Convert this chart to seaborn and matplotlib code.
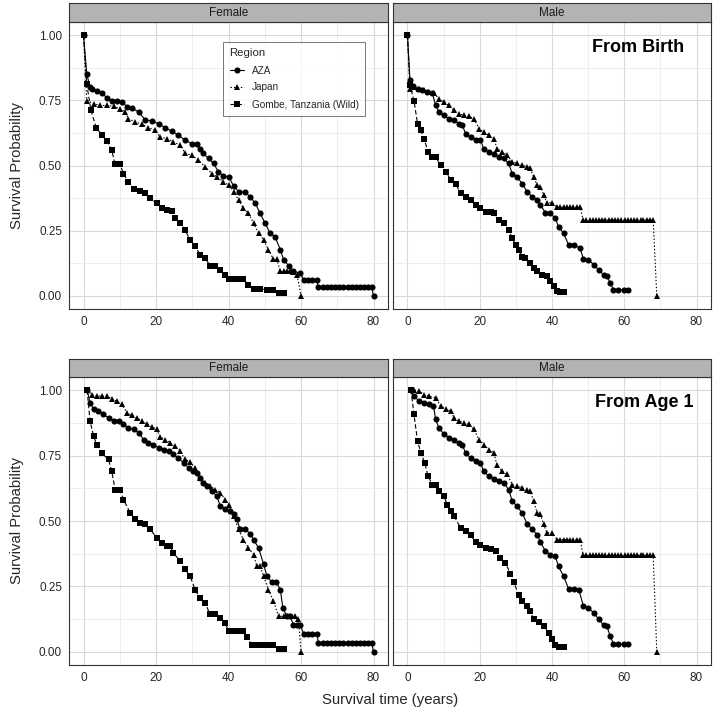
import matplotlib
matplotlib.use("Agg")
import matplotlib.pyplot as plt
import seaborn as sns
import pandas as pd

# -- datos: (tiempo en anos, probabilidad de supervivencia) --
regions = ["AZA", "Japan", "Gombe, Tanzania (Wild)"]
sexes = ["Female", "Male"]
starts = ["From Birth", "From Age 1"]

# desde nacimiento, hembras
aza_f_birth = [(0, 1.0), (0.9, 0.851), (1.8, 0.80), (2.3, 0.794), (3.7, 0.784), (5.1, 0.777),
               (6.4, 0.76), (7.8, 0.747), (9.2, 0.747), (10.6, 0.743), (12.0, 0.726), (13.3, 0.721),
               (15.2, 0.705), (17.0, 0.676), (18.9, 0.67), (20.7, 0.66), (22.5, 0.645), (24.4, 0.631),
               (26.2, 0.616), (28.0, 0.597), (29.9, 0.584), (31.3, 0.581), (32.2, 0.565), (33.1, 0.546),
               (34.5, 0.527), (35.9, 0.508), (37.2, 0.476), (38.6, 0.459), (40.0, 0.457), (41.4, 0.422),
               (42.8, 0.40), (44.6, 0.397), (46.0, 0.38), (47.4, 0.355), (48.7, 0.317), (50.1, 0.279),
               (51.5, 0.24), (52.9, 0.225), (54.3, 0.177), (55.2, 0.139), (56.6, 0.116), (57.9, 0.094),
               (59.8, 0.088), (60.7, 0.062), (61.9, 0.062), (63.1, 0.062), (64.4, 0.06), (64.8, 0.033),
               (66.0, 0.033), (67.1, 0.033), (68.3, 0.033), (69.4, 0.033), (70.6, 0.033), (71.7, 0.033),
               (72.9, 0.033), (74.0, 0.033), (75.2, 0.033), (76.3, 0.033), (77.5, 0.033), (78.6, 0.033),
               (79.5, 0.033), (80.0, 0.0)]
japan_f_birth = [(0, 1.0), (0.9, 0.749), (2.8, 0.737), (4.6, 0.73), (6.4, 0.73), (8.3, 0.727),
                 (10.1, 0.718), (11.5, 0.705), (12.4, 0.679), (14.3, 0.667), (16.1, 0.658), (17.9, 0.645),
                 (19.8, 0.635), (21.1, 0.609), (23.0, 0.603), (24.8, 0.59), (26.7, 0.578), (28.0, 0.548),
                 (29.9, 0.539), (31.7, 0.52), (33.6, 0.495), (35.4, 0.469), (36.8, 0.457), (38.6, 0.438),
                 (40.0, 0.425), (41.4, 0.40), (42.8, 0.368), (44.1, 0.336), (45.5, 0.317), (46.9, 0.279),
                 (48.3, 0.24), (49.7, 0.215), (51.0, 0.177), (52.4, 0.141), (53.3, 0.141), (54.3, 0.094),
                 (55.2, 0.094), (56.1, 0.094), (57.0, 0.094), (57.9, 0.09), (58.9, 0.081), (60.0, 0.0)]
gombe_f_birth = [(0, 1.0), (0.9, 0.813), (2.0, 0.714), (3.5, 0.645), (5.1, 0.616), (6.4, 0.594),
                 (7.8, 0.559), (8.7, 0.505), (10.1, 0.505), (11.0, 0.469), (12.4, 0.438), (13.8, 0.41),
                 (15.6, 0.403), (17.0, 0.393), (18.4, 0.374), (20.2, 0.355), (21.6, 0.338), (23.0, 0.33),
                 (24.4, 0.327), (25.3, 0.298), (26.7, 0.281), (28.0, 0.253), (29.4, 0.215), (30.8, 0.19),
                 (32.2, 0.158), (33.6, 0.145), (34.9, 0.116), (36.3, 0.113), (37.7, 0.10), (39.1, 0.081),
                 (40.0, 0.065), (41.4, 0.065), (42.8, 0.065), (44.1, 0.065), (45.5, 0.043), (46.9, 0.027),
                 (48.7, 0.027), (50.6, 0.024), (52.4, 0.024), (53.8, 0.011), (55.2, 0.011)]

# desde nacimiento, machos
aza_m_birth = [(0, 1.0), (0.7, 0.826), (1.4, 0.803), (2.8, 0.794), (4.1, 0.788), (5.5, 0.781),
               (6.9, 0.777), (7.8, 0.73), (8.7, 0.705), (10.1, 0.692), (11.5, 0.679), (12.9, 0.673),
               (14.3, 0.66), (15.2, 0.654), (16.1, 0.622), (17.5, 0.609), (18.9, 0.599), (20.2, 0.597),
               (21.1, 0.565), (22.5, 0.552), (23.9, 0.543), (25.3, 0.533), (26.7, 0.527), (28.0, 0.508),
               (29.0, 0.469), (30.3, 0.457), (31.7, 0.431), (33.1, 0.40), (34.5, 0.38), (35.9, 0.368),
               (36.8, 0.349), (38.2, 0.319), (39.5, 0.317), (40.9, 0.298), (41.8, 0.266), (43.2, 0.24),
               (44.6, 0.196), (46.0, 0.196), (47.8, 0.183), (48.7, 0.141), (50.1, 0.139), (51.5, 0.12),
               (52.9, 0.10), (54.3, 0.081), (55.2, 0.075), (56.1, 0.05), (57.0, 0.024), (58.4, 0.024),
               (59.8, 0.024), (61.1, 0.024)]
japan_m_birth = [(0, 1.0), (0.7, 0.794), (1.8, 0.80), (3.2, 0.794), (4.6, 0.788), (6.0, 0.781),
                 (7.4, 0.777), (8.7, 0.756), (10.1, 0.743), (11.5, 0.73), (12.9, 0.711), (14.3, 0.698),
                 (15.6, 0.692), (17.0, 0.688), (18.4, 0.679), (19.8, 0.641), (21.1, 0.628), (22.5, 0.616),
                 (23.9, 0.603), (24.8, 0.565), (26.2, 0.552), (27.6, 0.539), (29.0, 0.514), (30.3, 0.508),
                 (31.7, 0.501), (33.1, 0.495), (34.0, 0.489), (34.9, 0.457), (35.9, 0.425), (36.8, 0.419),
                 (37.7, 0.387), (38.6, 0.357), (40.0, 0.357), (41.4, 0.34), (42.3, 0.34), (43.2, 0.34),
                 (44.1, 0.34), (45.0, 0.34), (45.9, 0.34), (46.9, 0.34), (47.8, 0.34), (48.6, 0.291),
                 (49.5, 0.291), (50.4, 0.291), (51.3, 0.291), (52.1, 0.291), (53.0, 0.291), (53.9, 0.291),
                 (54.8, 0.291), (55.7, 0.291), (56.5, 0.291), (57.4, 0.291), (58.3, 0.291), (59.2, 0.291),
                 (60.1, 0.291), (60.9, 0.291), (61.8, 0.291), (62.7, 0.291), (63.6, 0.291), (64.5, 0.291),
                 (65.3, 0.291), (66.2, 0.291), (67.1, 0.291), (68.0, 0.291), (69.0, 0.0)]
gombe_m_birth = [(0, 1.0), (0.7, 0.807), (1.8, 0.749), (2.8, 0.66), (3.7, 0.635), (4.6, 0.603),
                 (5.7, 0.552), (6.9, 0.533), (7.8, 0.533), (9.2, 0.501), (10.6, 0.476), (12.0, 0.444),
                 (13.3, 0.431), (14.7, 0.393), (16.1, 0.38), (17.5, 0.368), (18.9, 0.349), (20.2, 0.336),
                 (21.6, 0.323), (23.0, 0.323), (23.9, 0.319), (25.3, 0.291), (26.7, 0.279), (28.0, 0.253),
                 (29.0, 0.221), (29.9, 0.196), (30.8, 0.177), (31.7, 0.151), (32.6, 0.145), (34.0, 0.126),
                 (34.9, 0.107), (35.9, 0.094), (37.2, 0.081), (38.6, 0.075), (39.5, 0.056), (40.5, 0.037),
                 (41.4, 0.018), (42.3, 0.014), (43.2, 0.014)]

# desde edad 1, hembras
aza_f_age1 = [(1.0, 1.0), (1.8, 0.952), (2.8, 0.926), (4.1, 0.92), (5.5, 0.907), (6.9, 0.894),
              (8.3, 0.882), (9.7, 0.882), (11.0, 0.869), (12.4, 0.856), (13.8, 0.85), (15.2, 0.837),
              (16.6, 0.811), (17.9, 0.799), (19.3, 0.792), (20.7, 0.78), (22.1, 0.773), (23.5, 0.767),
              (24.8, 0.754), (26.2, 0.741), (27.6, 0.722), (29.0, 0.703), (30.3, 0.69), (31.3, 0.684),
              (32.2, 0.665), (33.1, 0.646), (34.0, 0.633), (35.4, 0.614), (36.8, 0.595), (37.7, 0.557),
              (39.1, 0.544), (40.5, 0.538), (41.4, 0.525), (42.3, 0.506), (43.2, 0.468), (44.6, 0.468),
              (46.0, 0.452), (46.9, 0.429), (48.3, 0.397), (49.7, 0.334), (50.6, 0.289), (52.0, 0.266),
              (53.2, 0.266), (54.3, 0.238), (55.0, 0.168), (56.1, 0.136), (57.0, 0.136), (57.9, 0.104),
              (58.8, 0.104), (59.8, 0.104), (60.7, 0.07), (61.9, 0.07), (63.1, 0.07), (64.4, 0.07),
              (64.8, 0.034), (66.0, 0.034), (67.1, 0.034), (68.3, 0.034), (69.4, 0.034), (70.6, 0.034),
              (71.7, 0.034), (72.9, 0.034), (74.0, 0.034), (75.2, 0.034), (76.3, 0.034), (77.5, 0.034),
              (78.6, 0.034), (79.5, 0.034), (80.0, 0.0)]
japan_f_age1 = [(1.0, 1.0), (2.3, 0.983), (3.7, 0.977), (5.1, 0.977), (6.4, 0.977), (7.8, 0.967),
                (9.2, 0.958), (10.6, 0.945), (12.0, 0.913), (13.3, 0.903), (14.7, 0.894), (16.1, 0.882),
                (17.5, 0.869), (18.9, 0.86), (20.2, 0.85), (21.1, 0.822), (22.5, 0.811), (23.9, 0.799),
                (25.3, 0.786), (26.7, 0.767), (28.0, 0.735), (29.4, 0.725), (30.8, 0.703), (32.2, 0.665),
                (33.6, 0.646), (34.9, 0.633), (36.3, 0.62), (37.7, 0.608), (39.1, 0.582), (40.0, 0.563),
                (41.4, 0.518), (42.8, 0.468), (44.1, 0.429), (45.5, 0.397), (46.9, 0.372), (47.8, 0.327),
                (48.7, 0.327), (49.7, 0.289), (51.0, 0.238), (52.4, 0.194), (53.8, 0.136), (55.2, 0.136),
                (56.1, 0.136), (57.0, 0.136), (58.4, 0.136), (59.3, 0.124), (60.0, 0.0)]
gombe_f_age1 = [(1.0, 1.0), (1.8, 0.882), (2.8, 0.824), (3.7, 0.79), (5.1, 0.758), (6.9, 0.735),
                (7.8, 0.69), (8.7, 0.62), (10.1, 0.62), (11.0, 0.582), (12.9, 0.531), (14.3, 0.506),
                (15.6, 0.493), (17.0, 0.487), (18.4, 0.468), (20.2, 0.436), (21.6, 0.417), (23.0, 0.404),
                (23.9, 0.404), (24.8, 0.378), (26.7, 0.346), (28.0, 0.315), (29.4, 0.289), (30.8, 0.238),
                (32.2, 0.206), (33.6, 0.187), (34.9, 0.143), (36.3, 0.143), (37.7, 0.13), (39.1, 0.111),
                (40.0, 0.079), (41.0, 0.079), (41.8, 0.079), (42.9, 0.079), (44.1, 0.079), (45.0, 0.057),
                (46.4, 0.028), (47.4, 0.028), (48.3, 0.028), (49.2, 0.028), (50.1, 0.028), (51.3, 0.028),
                (52.4, 0.028), (53.8, 0.011), (55.2, 0.011)]

# desde edad 1, machos
aza_m_age1 = [(1.0, 1.0), (1.8, 0.977), (3.2, 0.958), (4.6, 0.952), (6.0, 0.945), (7.2, 0.939),
              (7.8, 0.888), (8.7, 0.856), (10.1, 0.831), (11.5, 0.818), (12.9, 0.809), (14.3, 0.799),
              (15.2, 0.792), (16.1, 0.758), (17.5, 0.741), (18.9, 0.729), (20.2, 0.722), (21.1, 0.69),
              (22.5, 0.671), (23.9, 0.661), (25.3, 0.652), (26.7, 0.646), (28.0, 0.62), (29.0, 0.576),
              (30.3, 0.557), (31.7, 0.531), (33.1, 0.49), (34.5, 0.468), (35.9, 0.448), (36.8, 0.419),
              (38.2, 0.385), (39.5, 0.372), (40.9, 0.366), (41.8, 0.327), (43.2, 0.289), (44.6, 0.241),
              (46.0, 0.241), (47.4, 0.238), (48.7, 0.175), (50.1, 0.168), (51.5, 0.149), (52.9, 0.126),
              (54.3, 0.101), (55.2, 0.098), (56.1, 0.06), (57.0, 0.031), (58.4, 0.031), (59.8, 0.031),
              (61.1, 0.031)]
japan_m_age1 = [(1.0, 1.0), (1.8, 1.0), (3.2, 0.996), (4.6, 0.983), (6.0, 0.977), (7.8, 0.971),
                (9.2, 0.939), (10.6, 0.929), (12.0, 0.92), (12.9, 0.894), (14.3, 0.882), (15.6, 0.875),
                (17.0, 0.869), (18.4, 0.85), (19.8, 0.811), (21.1, 0.792), (22.5, 0.773), (23.9, 0.761),
                (24.8, 0.712), (26.2, 0.69), (27.6, 0.678), (29.0, 0.639), (30.3, 0.633), (31.7, 0.627),
                (33.1, 0.62), (34.0, 0.614), (34.9, 0.576), (35.9, 0.531), (36.8, 0.525), (37.7, 0.487),
                (38.6, 0.455), (40.0, 0.455), (41.4, 0.429), (42.3, 0.429), (43.2, 0.429), (44.1, 0.429),
                (45.0, 0.429), (45.9, 0.429), (46.9, 0.429), (47.8, 0.429), (48.6, 0.369), (49.5, 0.369),
                (50.4, 0.369), (51.3, 0.369), (52.1, 0.369), (53.0, 0.369), (53.9, 0.369), (54.8, 0.369),
                (55.7, 0.369), (56.5, 0.369), (57.4, 0.369), (58.3, 0.369), (59.2, 0.369), (60.1, 0.369),
                (60.9, 0.369), (61.8, 0.369), (62.7, 0.369), (63.6, 0.369), (64.5, 0.369), (65.3, 0.369),
                (66.2, 0.369), (67.1, 0.369), (68.0, 0.369), (69.0, 0.0)]
gombe_m_age1 = [(1.0, 1.0), (1.8, 0.907), (2.8, 0.805), (3.7, 0.761), (4.8, 0.722), (5.7, 0.671),
                (6.9, 0.639), (7.8, 0.639), (8.7, 0.614), (10.1, 0.595), (11.0, 0.563), (12.0, 0.538),
                (12.9, 0.518), (14.7, 0.474), (16.1, 0.461), (17.5, 0.445), (18.9, 0.419), (20.2, 0.41),
                (21.6, 0.397), (23.0, 0.394), (24.4, 0.385), (25.7, 0.359), (27.1, 0.34), (28.5, 0.299),
                (29.4, 0.266), (30.8, 0.219), (31.7, 0.194), (33.1, 0.175), (34.0, 0.155), (34.9, 0.124),
                (36.3, 0.113), (37.7, 0.098), (39.1, 0.073), (40.0, 0.05), (40.9, 0.028), (41.8, 0.019),
                (43.2, 0.019)]

x_ticks = [0, 20, 40, 60, 80]
y_ticks = [0.0, 0.25, 0.5, 0.75, 1.0]

curvas = {
    ("From Birth", "Female"): [aza_f_birth, japan_f_birth, gombe_f_birth],
    ("From Birth", "Male"): [aza_m_birth, japan_m_birth, gombe_m_birth],
    ("From Age 1", "Female"): [aza_f_age1, japan_f_age1, gombe_f_age1],
    ("From Age 1", "Male"): [aza_m_age1, japan_m_age1, gombe_m_age1],
}

# -- tabla larga --
filas = []
for (start, sex), lista in curvas.items():
    for reg, pts in zip(regions, lista):
        for t, s in pts:
            filas.append({"start": start, "sex": sex, "Region": reg, "time": t, "surv": s})
df = pd.DataFrame(filas)

sns.set_style("white")
plt.rcParams["font.family"] = ["Liberation Sans", "DejaVu Sans"]

W, H = 720, 712
fig = plt.figure(figsize=(W / 100, H / 100), dpi=100)

def caja(x0, y0, x1, y1):
    # pixeles -> fraccion de figura
    return [x0 / W, 1 - y1 / H, (x1 - x0) / W, (y1 - y0) / H]

col_x = {"Female": (69, 388), "Male": (393, 711)}
row_y = {"From Birth": ((3, 22), (22, 309)), "From Age 1": ((359, 377), (377, 665))}

markers = {"AZA": "o", "Japan": "^", "Gombe, Tanzania (Wild)": "s"}
dashes = {"AZA": "", "Japan": (1.3, 1.8), "Gombe, Tanzania (Wild)": (4, 2.2)}
borde = "#333333"
ms = 4.4

for start in starts:
    (sy0, sy1), (py0, py1) = row_y[start]
    for sex in sexes:
        x0, x1 = col_x[sex]
        ax = fig.add_axes(caja(x0, py0, x1, py1))
        sub = df[(df.start == start) & (df.sex == sex)]
        first = (start == "From Birth" and sex == "Female")
        sns.lineplot(data=sub, x="time", y="surv", style="Region", style_order=regions,
                     markers=markers, dashes=dashes, color="black", estimator=None, sort=False,
                     linewidth=0.8, markersize=ms, markeredgewidth=0, ax=ax, legend=first)
        ax.set_xlim(-4, 84)
        ax.set_ylim(-0.05, 1.05)
        ax.set_xticks(x_ticks)
        ax.set_xticks([10, 30, 50, 70], minor=True)
        ax.set_yticks(y_ticks)
        ax.set_yticks([0.125, 0.375, 0.625, 0.875], minor=True)
        ax.grid(which="major", color="#D9D9D9", linewidth=0.8)
        ax.grid(which="minor", color="#E8E8E8", linewidth=0.5)
        ax.set_axisbelow(True)
        ax.set_xlabel("")
        ax.set_ylabel("")
        ax.tick_params(which="minor", length=0)
        ax.tick_params(which="major", length=3, width=0.6, color=borde, pad=2,
                       labelsize=8.5, labelcolor="#262626")
        if sex == "Female":
            ax.set_yticklabels(["0.00", "0.25", "0.50", "0.75", "1.00"])
        else:
            ax.tick_params(axis="y", left=False, labelleft=False)
        for sp in ax.spines.values():
            sp.set_color(borde)
            sp.set_linewidth(0.8)
        if sex == "Male":
            tx = 0.770 if start == "From Birth" else 0.791
            ax.text(tx, 0.912, start, transform=ax.transAxes, ha="center", va="center",
                    fontsize=13, fontweight="bold", color="black")
        if first:
            handles, labels = ax.get_legend_handles_labels()
            ax.get_legend().remove()
            leg = ax.legend(handles, labels, title="Region", loc="upper left",
                            bbox_to_anchor=(223 / W, 1 - 42 / H), bbox_transform=fig.transFigure,
                            borderaxespad=0, frameon=True, fancybox=False, fontsize=7.2,
                            title_fontsize=8.2, handlelength=1.4, handletextpad=0.8,
                            labelspacing=0.7, borderpad=0.65)
            leg._legend_box.align = "left"
            leg.get_frame().set_edgecolor("#555555")
            leg.get_frame().set_linewidth(0.7)
            for h in leg.legend_handles:
                h.set_markersize(ms)
                h.set_markeredgewidth(0)

        # franja del facet
        st = fig.add_axes(caja(x0, sy0, x1, sy1))
        st.set_facecolor("#B3B3B3")
        st.set_xticks([])
        st.set_yticks([])
        for sp in st.spines.values():
            sp.set_color(borde)
            sp.set_linewidth(0.8)
        st.text(0.5, 0.5, sex, ha="center", va="center", fontsize=8.5, color="#1A1A1A",
                transform=st.transAxes)

# titulos de ejes
fig.text(17 / W, 1 - 165.5 / H, "Survival Probability", rotation=90, ha="center", va="center",
         fontsize=10.7)
fig.text(17 / W, 1 - 521 / H, "Survival Probability", rotation=90, ha="center", va="center",
         fontsize=10.7)
fig.text(390 / W, 1 - 700 / H, "Survival time (years)", ha="center", va="center", fontsize=10.7)

fig.savefig("out.png", dpi=100)
